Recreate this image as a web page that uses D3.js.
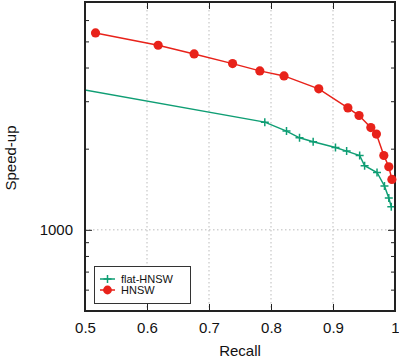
<!DOCTYPE html>
<html>
<head>
<meta charset="utf-8">
<script src="https://cdn.jsdelivr.net/npm/d3@7"></script>
<style>
  body { margin: 0; background: #fff; }
  svg { display: block; font-family: "Liberation Sans", Arial, sans-serif; }
</style>
</head>
<body>
<svg id="chart" width="399" height="359"></svg>
<script>
// data
const hnswRecall = [0.517, 0.618, 0.676, 0.738, 0.782, 0.821, 0.877, 0.924, 0.942, 0.961, 0.970, 0.982, 0.990, 0.995];
const hnswSpeedup = [5373, 4839, 4493, 4136, 3887, 3724, 3334, 2834, 2655, 2396, 2265, 1887, 1714, 1538];

const flatRecall = [0.45, 0.790, 0.825, 0.846, 0.868, 0.904, 0.922, 0.943, 0.951, 0.971, 0.983, 0.990, 0.994];
const flatSpeedup = [3465, 2509, 2324, 2194, 2121, 2021, 1959, 1887, 1729, 1632, 1454, 1312, 1218];

const xTicks = [0.5, 0.6, 0.7, 0.8, 0.9, 1];
const yMajor = [1000];
const yMinor = [500, 600, 700, 800, 900, 2000, 3000, 4000, 5000, 6000, 7000];

const red = '#e8221a';
const green = '#0f9e74';

const svg = d3.select('#chart');
const padLeft = 85, padRight = 395, padTop = 2, padBottom = 311;

const x = d3.scaleLinear().domain([0.5, 1]).range([padLeft, padRight]);
const y = d3.scaleLog().domain([500, 7000]).range([padBottom, padTop]);

svg.append('defs').append('clipPath').attr('id', 'plot-clip')
  .append('rect')
  .attr('x', padLeft).attr('y', padTop)
  .attr('width', padRight - padLeft).attr('height', padBottom - padTop);

// grid
const grid = svg.append('g').attr('stroke', '#bbb').attr('stroke-width', 1).attr('stroke-dasharray', '1.5 2.5');
xTicks.filter(t => t > 0.5 && t < 1).forEach(t => {
  grid.append('line')
    .attr('x1', x(t)).attr('x2', x(t))
    .attr('y1', padTop).attr('y2', padBottom);
});
yMajor.forEach(t => {
  grid.append('line')
    .attr('x1', padLeft).attr('x2', padRight)
    .attr('y1', y(t)).attr('y2', y(t));
});

// axes: ticks on all four sides, gnuplot style
const axisColor = '#222';
const xAxis = d3.axisBottom(x).tickValues(xTicks).tickSize(-7).tickPadding(11).tickFormat(d => d === 1 ? '1' : d3.format('.1f')(d));
const xTop = d3.axisTop(x).tickValues(xTicks).tickSize(-7).tickFormat('');
const yAxis = d3.axisLeft(y).tickValues(yMajor).tickSize(-7).tickPadding(12).tickFormat(d3.format('d'));
const yAxisMinor = d3.axisLeft(y).tickValues(yMinor).tickSize(-4).tickFormat('');
const yRight = d3.axisRight(y).tickValues(yMajor).tickSize(-7).tickFormat('');
const yRightMinor = d3.axisRight(y).tickValues(yMinor).tickSize(-4).tickFormat('');

function styleAxis(g) {
  g.select('.domain').remove();
  g.selectAll('line').attr('stroke', axisColor).attr('stroke-width', 1);
  g.selectAll('text').attr('fill', '#111').attr('font-size', 15)
    .attr('font-family', '"Liberation Sans", Arial, sans-serif');
}

svg.append('g').attr('transform', `translate(0,${padBottom})`).call(xAxis).call(styleAxis);
svg.append('g').attr('transform', `translate(0,${padTop})`).call(xTop).call(styleAxis);
svg.append('g').attr('transform', `translate(${padLeft},0)`).call(yAxis).call(styleAxis);
svg.append('g').attr('transform', `translate(${padLeft},0)`).call(yAxisMinor).call(styleAxis);
svg.append('g').attr('transform', `translate(${padRight},0)`).call(yRight).call(styleAxis);
svg.append('g').attr('transform', `translate(${padRight},0)`).call(yRightMinor).call(styleAxis);

// series
const plot = svg.append('g').attr('clip-path', 'url(#plot-clip)');
const line = d3.line().x(d => x(d[0])).y(d => y(d[1]));

const flatData = flatRecall.map((r, i) => [r, flatSpeedup[i]]);
const hnswData = hnswRecall.map((r, i) => [r, hnswSpeedup[i]]);

plot.append('path').datum(flatData)
  .attr('d', line).attr('fill', 'none').attr('stroke', green).attr('stroke-width', 1.5);
const plusSize = 4;
plot.selectAll('.plus').data(flatData).enter().append('path')
  .attr('class', 'plus')
  .attr('d', d => {
    const cx = x(d[0]), cy = y(d[1]);
    return `M${cx - plusSize},${cy}H${cx + plusSize}M${cx},${cy - plusSize}V${cy + plusSize}`;
  })
  .attr('stroke', green).attr('stroke-width', 1.5).attr('fill', 'none');

plot.append('path').datum(hnswData)
  .attr('d', line).attr('fill', 'none').attr('stroke', red).attr('stroke-width', 1.5);

// border on top of lines
svg.append('rect')
  .attr('x', padLeft).attr('y', padTop)
  .attr('width', padRight - padLeft).attr('height', padBottom - padTop)
  .attr('fill', 'none').attr('stroke', axisColor).attr('stroke-width', 2);

// circles drawn unclipped so the last ones overlap the border like the reference
svg.append('g').selectAll('circle').data(hnswData).enter().append('circle')
  .attr('cx', d => x(d[0])).attr('cy', d => y(d[1]))
  .attr('r', 4.6).attr('fill', red);

// legend
const legend = svg.append('g');
legend.append('rect')
  .attr('x', 94.5).attr('y', 266.5).attr('width', 96).attr('height', 37)
  .attr('fill', '#fff').attr('stroke', '#333').attr('stroke-width', 1);
const items = [
  { name: 'flat-HNSW', color: green, kind: 'plus' },
  { name: 'HNSW', color: red, kind: 'circle' }
];
items.forEach((it, i) => {
  const ly = 279 + i * 11;
  legend.append('line')
    .attr('x1', 100).attr('x2', 115).attr('y1', ly).attr('y2', ly)
    .attr('stroke', it.color).attr('stroke-width', 1.5);
  if (it.kind === 'plus') {
    legend.append('path')
      .attr('d', `M${107.5 - plusSize},${ly}H${107.5 + plusSize}M107.5,${ly - plusSize}V${ly + plusSize}`)
      .attr('stroke', it.color).attr('stroke-width', 1.5);
  } else {
    legend.append('circle').attr('cx', 107.5).attr('cy', ly).attr('r', 4.4).attr('fill', it.color);
  }
  legend.append('text')
    .attr('x', 121).attr('y', ly + 4)
    .attr('font-size', 11).attr('fill', '#111')
    .text(it.name);
});

// axis titles
svg.append('text')
  .attr('x', 240).attr('y', 356)
  .attr('text-anchor', 'middle').attr('font-size', 15).attr('fill', '#111')
  .text('Recall');
svg.append('text')
  .attr('transform', 'translate(16,158) rotate(-90)')
  .attr('text-anchor', 'middle').attr('font-size', 15).attr('fill', '#111')
  .text('Speed-up');
</script>
</body>
</html>
